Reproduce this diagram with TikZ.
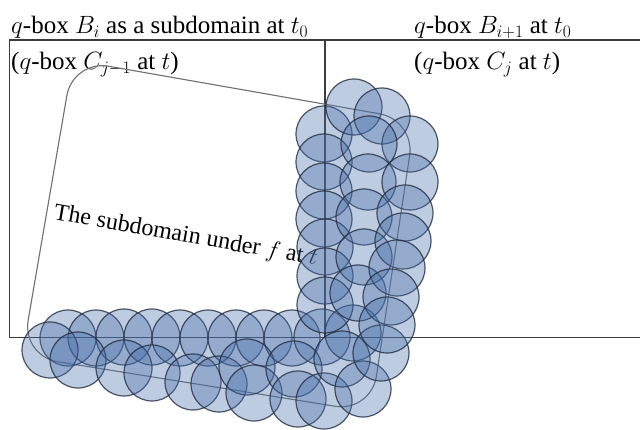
\documentclass[tikz,border=0pt]{standalone}
\usepackage{fix-cm}
\usepackage{fontspec}
\setmainfont{Liberation Serif}
\definecolor{bubfill}{RGB}{70,110,170}
\definecolor{bubline}{RGB}{35,45,65}
\definecolor{boxline}{RGB}{60,60,60}
\definecolor{shapeline}{RGB}{110,110,110}
\tikzset{
  bub/.style={fill=bubfill, fill opacity=0.35, draw=bubline, draw opacity=0.8, line width=1.2pt},
  boxln/.style={draw=boxline, line width=1.4pt},
  shapeln/.style={draw=shapeline, line width=1.1pt, rounded corners=36pt},
  title/.style={font=\fontsize{25}{30}\selectfont, inner sep=0pt, anchor=base west},
  sublabel/.style={font=\fontsize{24}{28}\selectfont, inner sep=0pt, anchor=base west, rotate=-10}
}
\begin{document}
\begin{tikzpicture}[x=1pt,y=-1pt]
\useasboundingbox (0,0) rectangle (640,430);
% boxes
\draw[boxln] (640,40) -- (9.5,40) -- (9.5,337.5) -- (640,337.5);
\draw[boxln] (325,40) -- (325,337.5);
% titles
\node[title] (t1) at (11,34) {$q$-box $B_i$ as a subdomain at $t_0$};
\node[title] (t2) at (11,70) {($q$-box $C_{j-1}$ at $t$)};
\node[title] (t3) at (414,34) {$q$-box $B_{i+1}$ at $t_0$};
\node[title] (t4) at (414,70) {($q$-box $C_j$ at $t$)};
% subdomain shape
\draw[shapeln] (244,90) -- (415,120) -- (371,412) -- (22,356) -- (73,60) -- cycle;
\node[sublabel] (lab) at (53,219) {The subdomain under $f$ at $t$};
% covering balls
\foreach \p in {(68,338),(96,338),(124,337),(152,337),(180,338),(208,338),(236,338),(264,338),(292,338),(322,337),(353,333),
  (50,350),(78,360),(124,368),(152,373),(193,382),(219,384),(247,367),(254,393),(294,369),(298,399),(324,401),(342,359),(363,389),(381,353),
  (324,134),(324,162),(324,191),(324,219),(325,247),(325,276),(325,305),
  (354,107),(382,116),(410,144),(369,144),
  (368,182),(364,217),(364,257),(358,293),
  (410,182),(405,213),(403,241),(397,268),(391,297),(387,325)}
  \draw[bub] \p circle[radius=28pt];
\end{tikzpicture}
\end{document}
